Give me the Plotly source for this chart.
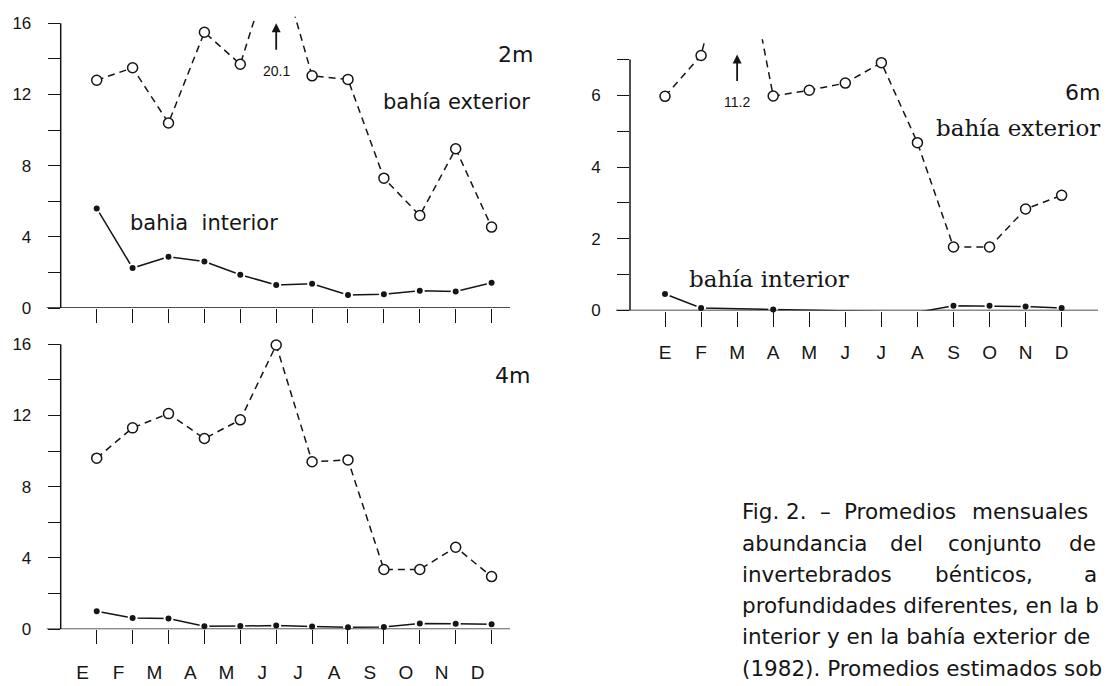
import plotly.graph_objects as go

W, H = 1107, 686

months = ["E", "F", "M", "A", "M", "J", "J", "A", "S", "O", "N", "D"]
idx = list(range(12))

ext_2m = [12.8, 13.5, 10.4, 15.5, 13.7, 20.1, 13.05, 12.85, 7.3, 5.2, 8.95, 4.55]
int_2m = [5.6, 2.25, 2.88, 2.62, 1.87, 1.3, 1.37, 0.73, 0.78, 0.97, 0.93, 1.42]

ext_4m = [9.6, 11.3, 12.1, 10.7, 11.75, 15.95, 9.4, 9.5, 3.35, 3.35, 4.6, 2.95]
int_4m = [1.0, 0.63, 0.6, 0.16, 0.17, 0.2, 0.15, 0.1, 0.12, 0.32, 0.3, 0.28]

ext_6m = [5.97, 7.11, 11.2, 5.98, 6.14, 6.34, 6.91, 4.68, 1.77, 1.77, 2.83, 3.21]
int_6m = [0.46, 0.07, None, 0.03, None, -0.01, -0.03, -0.05, 0.13, 0.13, 0.11, 0.07]

ticks_16 = [0, 2, 4, 6, 8, 10, 12, 14, 16]
ticktext_16 = ["0", "", "4", "", "8", "", "12", "", "16"]
ticks_7 = [0, 1, 2, 3, 4, 5, 6, 7]
ticktext_7 = ["0", "", "2", "", "4", "", "6", ""]

INK = "#151515"
SANS = "Liberation Sans, Arial, sans-serif"
WIDE = "DejaVu Sans, sans-serif"
SERIF = "DejaVu Serif, serif"


def px(x):
    return x / W


def py(y):
    return 1 - y / H


fig = go.Figure()


def add_pair(ext, inner, xa, ya):
    fig.add_trace(go.Scatter(
        x=idx, y=ext, xaxis=xa, yaxis=ya, mode="lines+markers",
        line=dict(color=INK, width=1.5, dash="7px,5px"),
        marker=dict(symbol="circle", size=10, color="white",
                    line=dict(color=INK, width=1.5)),
        cliponaxis=False, showlegend=False, connectgaps=True))
    fig.add_trace(go.Scatter(
        x=idx, y=inner, xaxis=xa, yaxis=ya, mode="lines+markers",
        line=dict(color=INK, width=1.5),
        marker=dict(symbol="circle", size=8, color=INK,
                    line=dict(color="white", width=2)),
        cliponaxis=False, showlegend=False, connectgaps=True))


add_pair(ext_2m, int_2m, "x", "y")
add_pair(ext_4m, int_4m, "x3", "y3")
add_pair(ext_6m, int_6m, "x2", "y2")

xcommon = dict(showgrid=False, zeroline=False, showline=False,
               ticks="outside", tickcolor=INK, tickwidth=1.3,
               tickvals=idx, ticktext=months,
               tickfont=dict(family=SANS, size=19, color=INK))
ycommon = dict(showgrid=False, zeroline=False, showline=False,
               ticks="outside", tickcolor=INK, tickwidth=1.3, ticklen=12,
               ticklabelstandoff=13,
               tickfont=dict(family=SANS, size=17, color=INK))

fig.update_layout(
    width=W, height=H,
    margin=dict(l=0, r=0, t=0, b=0),
    paper_bgcolor="white", plot_bgcolor="white",
    xaxis=dict(xcommon, domain=[px(60.7), px(510)], range=[-1.003, 11.513],
               anchor="y", ticklen=14, showticklabels=False),
    yaxis=dict(ycommon, domain=[py(311.5), py(15)], range=[0, 16.37],
               anchor="x", tickvals=ticks_16, ticktext=ticktext_16),
    xaxis3=dict(xcommon, domain=[px(60.7), px(510)], range=[-1.003, 11.513],
                anchor="y3", ticklen=14, ticklabelstandoff=12,
                ticklabelshift=-14),
    yaxis3=dict(ycommon, domain=[py(638.3), py(341)], range=[0, 16.40],
                anchor="x3", tickvals=ticks_16, ticktext=ticktext_16),
    xaxis2=dict(xcommon, domain=[px(630), px(1098)], range=[-0.971, 12.008],
                anchor="y2", ticklen=15, ticklabelstandoff=10),
    yaxis2=dict(ycommon, domain=[py(314), py(38)], range=[0, 7.56],
                anchor="x2", tickvals=ticks_7, ticktext=ticktext_7),
)

shapes = []
for xa, ya, top, ext in [("x", "y", 16, -0.031), ("x3", "y3", 16, -0.031),
                         ("x2", "y2", 7, -0.03)]:
    shapes.append(dict(type="line", xref=xa + " domain", yref=ya,
                       x0=0, x1=0, y0=0, y1=top,
                       line=dict(color=INK, width=1.5)))
    shapes.append(dict(type="line", xref=xa + " domain", yref=ya,
                       x0=ext, x1=1, y0=0, y1=0,
                       line=dict(color=INK, width=1.4)))
fig.update_layout(shapes=shapes)

ann = []


def text(t, x, y, size, family=WIDE, anchor="center"):
    ann.append(dict(text=t, x=px(x), y=py(y), xref="paper", yref="paper",
                    xanchor=anchor, yanchor="middle", showarrow=False,
                    font=dict(family=family, size=size, color=INK)))


# panel labels
text("2m", 515, 53, 22)
text("bahía exterior", 456, 102, 21)
text("bahia  interior", 204, 225, 21)
text("4m", 512, 380, 22)
text("6m", 1082, 92, 22)
text("bahía exterior", 934, 128, 23, SERIF, "left")
text("bahía interior", 687, 282, 23, SERIF, "left")

# off-scale arrows
ann.append(dict(text="", x=5, y=16.0, xref="x", yref="y", showarrow=True,
                ax=0, ay=28, arrowhead=2, arrowsize=1, arrowwidth=1.8,
                arrowcolor=INK, standoff=0))
ann.append(dict(text="20.1", x=5, y=13.33, xref="x", yref="y", showarrow=False,
                font=dict(family=SANS, size=14, color=INK)))
ann.append(dict(text="", x=2, y=7.14, xref="x2", yref="y2", showarrow=True,
                ax=0, ay=28, arrowhead=2, arrowsize=1, arrowwidth=1.8,
                arrowcolor=INK, standoff=0))
ann.append(dict(text="11.2", x=2, y=5.82, xref="x2", yref="y2", showarrow=False,
                font=dict(family=SANS, size=14, color=INK)))

# caption: justified lines, cut by the scan at the right edge
CAP = 21.5
cap_y0, cap_dy = 519, 31.8
for w, xw in [("Fig. 2.", 740), ("–", 818), ("Promedios", 842), ("mensuales", 970)]:
    text(w, xw, cap_y0, CAP, anchor="left")
for w, xw in [("abundancia", 740), ("del", 888), ("conjunto", 946), ("de", 1067)]:
    text(w, xw, cap_y0 + cap_dy, CAP, anchor="left")
for w, xw in [("invertebrados", 740), ("bénticos,", 933), ("a", 1082)]:
    text(w, xw, cap_y0 + 2 * cap_dy, CAP, anchor="left")
text("profundidades diferentes, en la b", 740, cap_y0 + 3 * cap_dy, CAP, anchor="left")
text("interior y en la bahía exterior de", 740, cap_y0 + 4 * cap_dy, CAP, anchor="left")
text("(1982). Promedios estimados sob", 740, cap_y0 + 5 * cap_dy, CAP, anchor="left")

fig.update_layout(annotations=ann)

fig.write_html(
    "out.html",
    config={"displayModeBar": False},
    post_script="document.body.style.margin='0px';document.body.style.overflow='hidden';",
)
